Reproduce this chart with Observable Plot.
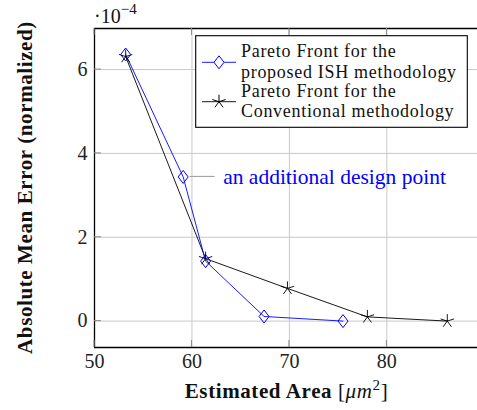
<!DOCTYPE html>
<html><head><meta charset="utf-8">
<script src="https://cdn.jsdelivr.net/npm/d3@7"></script>
<script src="https://cdn.jsdelivr.net/npm/@observablehq/plot@0.6"></script>
<style>
html,body{margin:0;padding:0;background:#fff;overflow:hidden}
svg{display:block}
</style></head><body><div id="chart"></div>
<script>
// ---- data ----
const ishArea  = [53.2, 59.1, 61.4, 67.4, 75.5];
const ishError = [6.36, 3.44, 1.43, 0.11, 0.0];
const convArea  = [53.2, 61.4, 69.8, 78.0, 86.2];
const convError = [6.31, 1.49, 0.78, 0.10, 0.0];
const xTicks = [50, 60, 70, 80];
const yTicks = [0, 2, 4, 6];
const xDomain = [50, 89.3];
const yDomain = [-0.63, 6.98];
const legendLines = [["Pareto Front for the", "proposed ISH methodology"], ["Pareto Front for the", "Conventional methodology"]];
const annotation = [{x: 59.1, y: 3.44, text: "an additional design point"}];
const xLabel = "Estimated Area";
const xUnit = "μm";
const yLabel = "Absolute Mean Error (normalized)";
const scaleNote = {base: "·10", exp: "−4"};

const FONT = "'Liberation Serif','Times New Roman',serif";
const BLUE = "#0000ff";

const ish = ishArea.map((x, i) => ({x, y: ishError[i]}));
const conv = convArea.map((x, i) => ({x, y: convError[i]}));

const diamond = {draw(ctx, size) {
  const r = Math.sqrt(size / Math.PI);
  ctx.moveTo(0, -r * 1.3); ctx.lineTo(r, 0); ctx.lineTo(0, r * 1.3); ctx.lineTo(-r, 0); ctx.closePath();
}};
const star = {draw(ctx, size) {
  const r = Math.sqrt(size / Math.PI);
  for (let k = 0; k < 5; k++) {
    const a = (90 + 72 * k) * Math.PI / 180;
    ctx.moveTo(0, 0); ctx.lineTo(r * Math.cos(a), -r * Math.sin(a));
  }
}};

const chart = Plot.plot({
  width: 477, height: 410,
  marginLeft: 94, marginRight: 0, marginTop: 28, marginBottom: 63,
  style: {fontFamily: FONT, background: "#fff"},
  x: {domain: xDomain},
  y: {domain: yDomain},
  marks: [
    Plot.gridX(xTicks, {stroke: "#c8c8c8", strokeOpacity: 1, strokeWidth: 1}),
    Plot.gridY(yTicks, {stroke: "#c8c8c8", strokeOpacity: 1, strokeWidth: 1}),
    Plot.axisX(xTicks, {tickSize: 0, tickPadding: 6, fontSize: 20, label: null, fill: "#222"}),
    Plot.axisY(yTicks, {tickSize: 0, tickPadding: 7, fontSize: 20, label: null, fill: "#222"}),
    Plot.line(conv, {x: "x", y: "y", stroke: "#000", strokeWidth: 0.9}),
    Plot.line(ish, {x: "x", y: "y", stroke: BLUE, strokeWidth: 0.9}),
    Plot.dot(ish, {x: "x", y: "y", symbol: diamond, r: 5, stroke: BLUE, fill: "none", strokeWidth: 1}),
    Plot.dot(conv, {x: "x", y: "y", symbol: star, r: 7, stroke: "#000", fill: "none", strokeWidth: 0.9}),
    Plot.text(annotation, {x: "x", y: "y", text: "text", textAnchor: "start", dx: 40, fill: BLUE, fontSize: 21.5}),
    Plot.ruleX([xDomain[0]], {stroke: "#000", strokeWidth: 1.3}),
    Plot.ruleY([yDomain[0], yDomain[1]], {stroke: "#000", strokeWidth: 1.3})
  ]
});

const svg = d3.select(chart);
const sx = chart.scale("x"), sy = chart.scale("y");
const leftPx = sx.apply(xDomain[0]), topPx = sy.apply(yDomain[1]), bottomPx = sy.apply(yDomain[0]);

// inner tick marks
const tg = svg.append("g").attr("stroke", "#8a8a8a").attr("stroke-width", 1);
xTicks.forEach(v => {
  const px = sx.apply(v);
  tg.append("line").attr("x1", px).attr("x2", px).attr("y1", bottomPx).attr("y2", bottomPx - 7);
  tg.append("line").attr("x1", px).attr("x2", px).attr("y1", topPx).attr("y2", topPx + 7);
});
yTicks.forEach(v => {
  const py = sy.apply(v);
  tg.append("line").attr("x1", leftPx).attr("x2", leftPx + 7).attr("y1", py).attr("y2", py);
});

// annotation connector
annotation.forEach(a => {
  const px = sx.apply(a.x), py = sy.apply(a.y);
  svg.append("line").attr("x1", px + 7).attr("x2", px + 32).attr("y1", py).attr("y2", py)
    .attr("stroke", "#9a9a9a").attr("stroke-width", 1);
});

// scale note ·10^-4
const note = svg.append("text").attr("x", leftPx).attr("y", topPx - 5).attr("text-anchor", "start")
  .attr("font-family", FONT).attr("font-size", 20).attr("fill", "#111");
note.append("tspan").text(scaleNote.base);
note.append("tspan").attr("dy", -9).attr("font-size", 15).text(scaleNote.exp);

// x label
const xl = svg.append("text").attr("x", 286.5).attr("y", bottomPx + 51).attr("text-anchor", "middle")
  .attr("font-family", FONT).attr("font-size", 21).attr("fill", "#111").attr("letter-spacing", 0.6);
xl.append("tspan").attr("font-weight", "bold").text(xLabel + " ");
xl.append("tspan").text("[");
xl.append("tspan").attr("font-style", "italic").text(xUnit);
xl.append("tspan").attr("dy", -8).attr("font-size", 15).text("2");
xl.append("tspan").attr("dy", 8).text("]");

// y label
const midY = (topPx + bottomPx) / 2;
svg.append("text").attr("transform", `translate(32,${midY}) rotate(-90)`).attr("text-anchor", "middle")
  .attr("font-family", FONT).attr("font-size", 21).attr("font-weight", "bold").attr("fill", "#111")
  .attr("letter-spacing", 0.6).text(yLabel);

// legend
const lg = svg.append("g");
lg.append("rect").attr("x", 195.7).attr("y", 35.7).attr("width", 271.6).attr("height", 91.6)
  .attr("fill", "#fff").attr("stroke", "#000").attr("stroke-width", 1.1);
const entries = [
  {color: BLUE, sym: diamond, r: 5, cy: 62.3, lines: legendLines[0], base: 57.3},
  {color: "#000", sym: star, r: 7, cy: 101.7, lines: legendLines[1], base: 96.7}
];
entries.forEach(e => {
  lg.append("line").attr("x1", 202).attr("x2", 236).attr("y1", e.cy).attr("y2", e.cy)
    .attr("stroke", e.color).attr("stroke-width", 0.9);
  lg.append("path").attr("transform", `translate(219,${e.cy})`)
    .attr("d", d3.symbol(e.sym, e.r * e.r * Math.PI)())
    .attr("fill", e.color === BLUE ? "#fff" : "none").attr("stroke", e.color).attr("stroke-width", 1);
  const t = lg.append("text").attr("x", 241).attr("y", e.base).attr("text-anchor", "start")
    .attr("font-family", FONT).attr("font-size", 18).attr("letter-spacing", 0.7).attr("fill", "#111");
  e.lines.forEach((line, i) => {
    t.append("tspan").attr("x", 241).attr("dy", i === 0 ? 0 : 20.2).text(line);
  });
});

document.getElementById("chart").appendChild(chart);
</script></body></html>
